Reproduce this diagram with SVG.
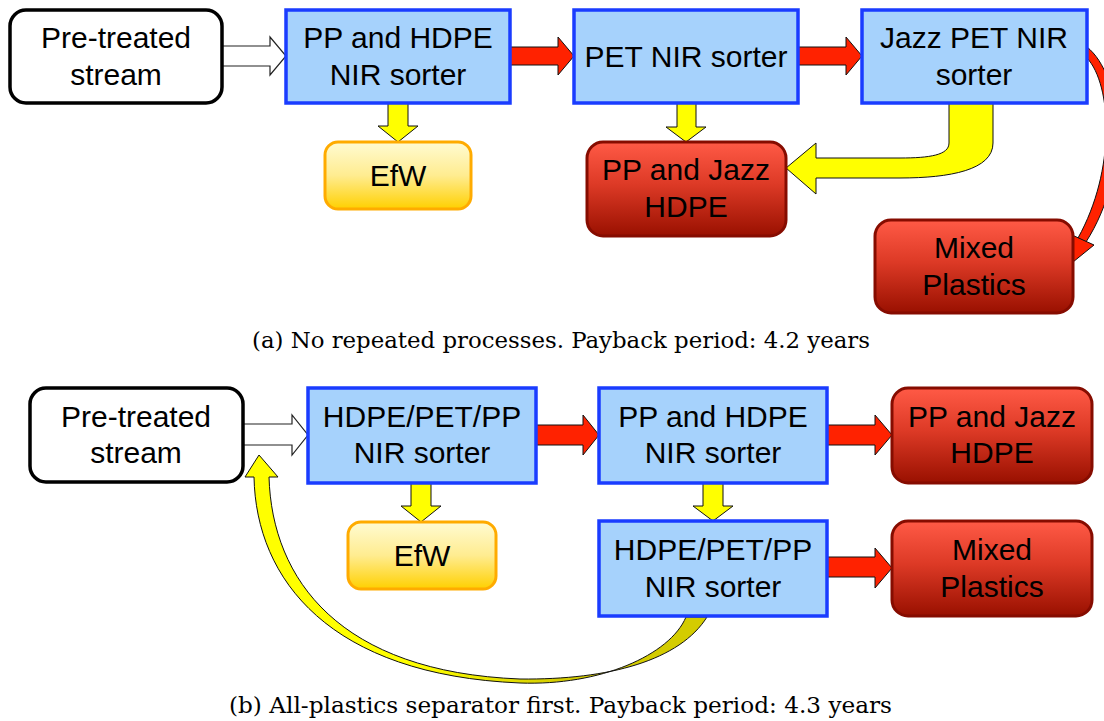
<svg xmlns="http://www.w3.org/2000/svg" width="1104" height="721" viewBox="0 0 1104 721">
<defs>
<linearGradient id="gRed" x1="0" y1="0" x2="0" y2="1">
<stop offset="0" stop-color="#ff5a46"/>
<stop offset="0.45" stop-color="#dd3a26"/>
<stop offset="1" stop-color="#991000"/>
</linearGradient>
<linearGradient id="gEfw" x1="0" y1="0" x2="0" y2="1">
<stop offset="0" stop-color="#fffbd2"/>
<stop offset="0.5" stop-color="#ffec90"/>
<stop offset="1" stop-color="#ffd000"/>
</linearGradient>
<linearGradient id="gBand" gradientUnits="userSpaceOnUse" x1="420" y1="0" x2="560" y2="0">
<stop offset="0" stop-color="#ffff00"/>
<stop offset="1" stop-color="#d4cc00"/>
</linearGradient>
</defs>
<style>
.t{font-family:"Liberation Sans",Arial,sans-serif;font-size:30px;fill:#000;text-anchor:middle}
.cap{font-family:"DejaVu Serif","Liberation Serif",serif;font-size:22px;fill:#000}
.src{fill:#fff;stroke:#000;stroke-width:3.5}
.blue{fill:#a6d2fc;stroke:#1a3cff;stroke-width:3.5}
.red{fill:url(#gRed);stroke:#860c00;stroke-width:3}
.efw{fill:url(#gEfw);stroke:#ffab00;stroke-width:3}
.ah{fill:#fff;stroke:#222;stroke-width:1.2}
.ar{fill:#ff2200;stroke:#111;stroke-width:1}
.ay{fill:#ffff00;stroke:#111;stroke-width:1}
</style>
<rect width="1104" height="721" fill="#fff"/>

<g id="connectors">
<path class="ah" d="M222,46 L270,46 L270,37 L286,56 L270,75 L270,66 L222,66 Z"/>
<path class="ar" d="M510,47 L558,47 L558,37 L574,56 L558,75 L558,65 L510,65 Z"/>
<path class="ar" d="M798,47 L846,47 L846,37 L862,56 L846,75 L846,65 L798,65 Z"/>
<path class="ay" d="M388,103 L408,103 L408,126 L418,126 L398,142 L378,126 L388,126 Z"/>
<path class="ay" d="M677,103 L696,103 L696,127 L706,127 L686,142 L666,127 L677,127 Z"/>
<path class="ay" d="M949,103 L993,103 L993,143 C993,170 950,178 900,178 L816,178 L816,194 L786,168 L816,143 L816,158 L900,158 C930,158 949,155 949,143 Z"/>
<path class="ar" d="M1087,47 C1122,75 1132,170 1086,242 L1078,238 C1116,170 1112,85 1087,58 Z"/>
<path class="ar" d="M1073,262 L1072,235 L1094,245 Z"/>

<path class="ah" d="M243,424 L292,424 L292,415 L308,435 L292,455 L292,445 L243,445 Z"/>
<path class="ar" d="M536,425 L583,425 L583,415 L599,435 L583,455 L583,445 L536,445 Z"/>
<path class="ar" d="M827,425 L875,425 L875,415 L892,435 L875,455 L875,445 L827,445 Z"/>
<path class="ar" d="M827,557 L875,557 L875,548 L892,568 L875,588 L875,577 L827,577 Z"/>
<path class="ay" d="M411,483 L431,483 L431,506 L441,506 L421,522 L401,506 L411,506 Z"/>
<path class="ay" d="M703,483 L723,483 L723,506 L733,506 L713,521 L693,506 L703,506 Z"/>
<path d="M686,617 C670,655 600,686 520,683 C330,675 256,580 254,477 L245,477 L259,455 L278,477 L269,477 C272,580 340,672 520,679 C610,680 680,660 707,617 Z" fill="url(#gBand)" stroke="#111" stroke-width="1"/>
</g>

<g id="n-pretreated-a">
<rect class="src" x="10" y="10" width="212" height="93" rx="16"/>
<text class="t" x="116" y="48">Pre-treated</text>
<text class="t" x="116" y="85">stream</text>
</g>
<g id="n-pphdpe-a">
<rect class="blue" x="286" y="10" width="224" height="93"/>
<text class="t" x="398" y="48">PP and HDPE</text>
<text class="t" x="398" y="85">NIR sorter</text>
</g>
<g id="n-pet-a">
<rect class="blue" x="574" y="10" width="224" height="93"/>
<text class="t" x="686" y="67">PET NIR sorter</text>
</g>
<g id="n-jazz-a">
<rect class="blue" x="862" y="10" width="225" height="93"/>
<text class="t" x="974" y="48">Jazz PET NIR</text>
<text class="t" x="974" y="85">sorter</text>
</g>
<g id="n-efw-a">
<rect class="efw" x="325" y="142" width="146" height="67" rx="13"/>
<text class="t" x="398" y="186">EfW</text>
</g>
<g id="n-ppjazz-a">
<rect class="red" x="587" y="142" width="199" height="94" rx="16"/>
<text class="t" x="686" y="180">PP and Jazz</text>
<text class="t" x="686" y="217">HDPE</text>
</g>
<g id="n-mixed-a">
<rect class="red" x="875" y="220" width="198" height="93" rx="16"/>
<text class="t" x="974" y="258">Mixed</text>
<text class="t" x="974" y="295">Plastics</text>
</g>
<text class="cap" x="252" y="348" textLength="618" lengthAdjust="spacingAndGlyphs">(a) No repeated processes. Payback period: 4.2 years</text>

<g id="n-pretreated-b">
<rect class="src" x="30" y="388" width="213" height="94" rx="16"/>
<text class="t" x="136" y="427">Pre-treated</text>
<text class="t" x="136" y="463">stream</text>
</g>
<g id="n-all-b">
<rect class="blue" x="308" y="388" width="228" height="95"/>
<text class="t" x="422" y="427">HDPE/PET/PP</text>
<text class="t" x="422" y="463">NIR sorter</text>
</g>
<g id="n-pphdpe-b">
<rect class="blue" x="599" y="388" width="228" height="95"/>
<text class="t" x="713" y="427">PP and HDPE</text>
<text class="t" x="713" y="463">NIR sorter</text>
</g>
<g id="n-ppjazz-b">
<rect class="red" x="892" y="388" width="200" height="95" rx="16"/>
<text class="t" x="992" y="427">PP and Jazz</text>
<text class="t" x="992" y="463">HDPE</text>
</g>
<g id="n-efw-b">
<rect class="efw" x="348" y="522" width="148" height="67" rx="13"/>
<text class="t" x="422" y="566">EfW</text>
</g>
<g id="n-all2-b">
<rect class="blue" x="599" y="521" width="228" height="95"/>
<text class="t" x="713" y="560">HDPE/PET/PP</text>
<text class="t" x="713" y="597">NIR sorter</text>
</g>
<g id="n-mixed-b">
<rect class="red" x="892" y="521" width="200" height="95" rx="16"/>
<text class="t" x="992" y="560">Mixed</text>
<text class="t" x="992" y="597">Plastics</text>
</g>
<text class="cap" x="229" y="713" textLength="663" lengthAdjust="spacingAndGlyphs">(b) All-plastics separator first. Payback period: 4.3 years</text>
</svg>
